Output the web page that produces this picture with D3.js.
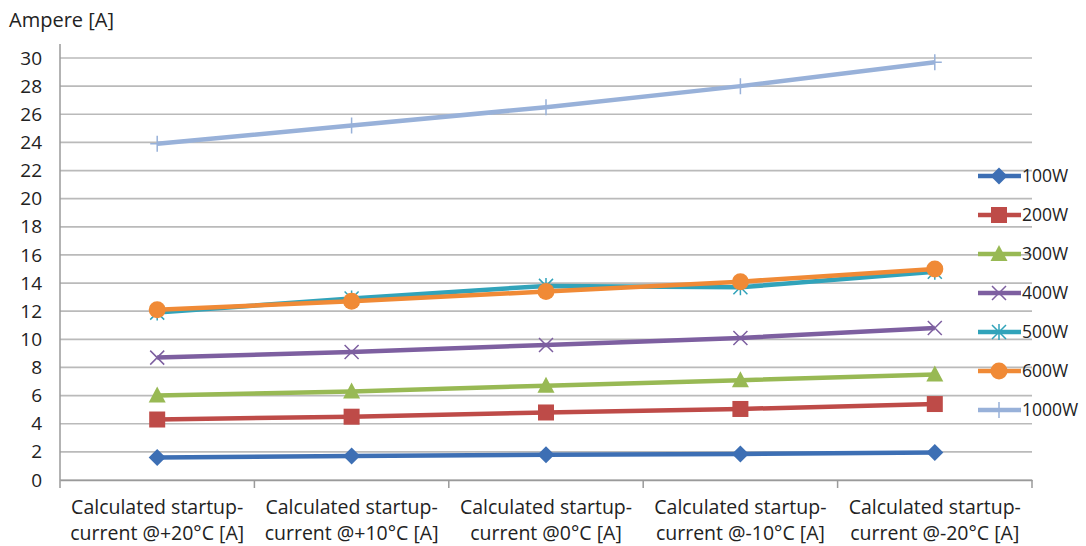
<!DOCTYPE html>
<html>
<head>
<meta charset="utf-8">
<script src="https://cdn.jsdelivr.net/npm/d3@7"></script>
<style>
  body { margin: 0; background: #fff; }
  text { font-family: "Open Sans", "Noto Sans", sans-serif; fill: #222; }
</style>
</head>
<body>
<script>
// data
var categories = [
  'Calculated startup-|current @+20°C [A]',
  'Calculated startup-|current @+10°C [A]',
  'Calculated startup-|current @0°C [A]',
  'Calculated startup-|current @-10°C [A]',
  'Calculated startup-|current @-20°C [A]'
]
var seriesNames = ['100W', '200W', '300W', '400W', '500W', '600W', '1000W']
var w100 = [1.6, 1.7, 1.8, 1.85, 1.95]
var w200 = [4.3, 4.5, 4.8, 5.05, 5.4]
var w300 = [6.0, 6.3, 6.7, 7.1, 7.5]
var w400 = [8.7, 9.1, 9.6, 10.1, 10.8]
var w500 = [11.9, 12.9, 13.8, 13.7, 14.8]
var w600 = [12.1, 12.7, 13.4, 14.1, 15.0]
var w1000 = [23.9, 25.2, 26.5, 28.0, 29.7]
var yTicks = d3.range(0, 31, 2)

var colors = ['#3d6fb4', '#be4b48', '#98b954', '#7d5fa0', '#31a3ba', '#f08a36', '#98b1d9']
var symbols = ['diamond', 'square', 'triangle', 'x', 'star', 'circle', 'plus']
var values = [w100, w200, w300, w400, w500, w600, w1000]

var width = 1086, height = 546
var svg = d3.select('body').append('svg')
    .attr('width', width)
    .attr('height', height)

var plotLeft = 60, plotRight = 1032, plotTop = 58, plotBottom = 480

var x = d3.scaleBand()
    .domain(categories)
    .range([plotLeft, plotRight])
var y = d3.scaleLinear()
    .domain([0, 30])
    .range([plotBottom, plotTop])

// gridlines
svg.append('g')
    .selectAll('line')
    .data(yTicks)
    .join('line')
    .attr('x1', plotLeft)
    .attr('x2', plotRight)
    .attr('y1', d => y(d))
    .attr('y2', d => y(d))
    .attr('stroke', '#bababa')
    .attr('stroke-width', 1.7)

// y axis
var yAxis = svg.append('g')
    .attr('transform', 'translate(' + plotLeft + ',0)')
    .call(d3.axisLeft(y).tickValues(yTicks).tickSize(0).tickPadding(18))
yAxis.select('.domain').remove()
yAxis.selectAll('text')
    .style('font-size', '19px')
    .attr('fill', '#222')

svg.append('line')
    .attr('x1', plotLeft)
    .attr('x2', plotLeft)
    .attr('y1', 44)
    .attr('y2', plotBottom)
    .attr('stroke', '#9a9a9a')
    .attr('stroke-width', 1.5)

// x axis
var xAxis = svg.append('g')
    .attr('transform', 'translate(0,' + plotBottom + ')')
    .call(d3.axisBottom(x).tickSize(0).tickFormat(''))
xAxis.select('.domain')
    .attr('stroke', '#9a9a9a')
    .attr('stroke-width', 1.5)

var edges = categories.map(c => x(c)).concat([plotRight])
svg.append('g')
    .selectAll('line')
    .data(edges)
    .join('line')
    .attr('x1', d => d)
    .attr('x2', d => d)
    .attr('y1', plotBottom)
    .attr('y2', plotBottom + 8)
    .attr('stroke', '#9a9a9a')
    .attr('stroke-width', 1.5)

var xLabels = svg.append('g')
    .selectAll('text')
    .data(categories)
    .join('text')
    .attr('text-anchor', 'middle')
    .style('font-size', '19.5px')
xLabels.each(function (d) {
    var parts = d.split('|')
    var t = d3.select(this)
    parts.forEach(function (p, i) {
        t.append('tspan')
            .attr('x', x(d) + x.bandwidth() / 2)
            .attr('y', 514 + i * 26)
            .text(p)
    })
})

// axis title
svg.append('text')
    .attr('x', 9)
    .attr('y', 27)
    .style('font-size', '20px')
    .text('Ampere [A]')

// marker drawing
function drawMarker(g, type, color) {
    if (type === 'diamond') {
        g.append('path').attr('d', 'M0,-8.5 L8.5,0 L0,8.5 L-8.5,0 Z').attr('fill', color)
    } else if (type === 'square') {
        g.append('rect').attr('x', -8).attr('y', -8).attr('width', 16).attr('height', 16).attr('fill', color)
    } else if (type === 'triangle') {
        g.append('path').attr('d', 'M0,-9 L8.5,7 L-8.5,7 Z').attr('fill', color)
    } else if (type === 'x') {
        g.append('path').attr('d', 'M-7,-7 L7,7 M-7,7 L7,-7').attr('stroke', color).attr('stroke-width', 1.5)
    } else if (type === 'star') {
        g.append('path').attr('d', 'M-7,-7 L7,7 M-7,7 L7,-7 M0,-8 L0,8').attr('stroke', color).attr('stroke-width', 1.5)
    } else if (type === 'circle') {
        g.append('circle').attr('r', 8.5).attr('fill', color)
    } else if (type === 'plus') {
        g.append('path').attr('d', 'M-7,0 L7,0 M0,-8 L0,8').attr('stroke', color).attr('stroke-width', 1.5)
    }
}

var line = d3.line()
    .x((d, i) => x(categories[i]) + x.bandwidth() / 2)
    .y(d => y(d))

values.forEach(function (vals, s) {
    var g = svg.append('g')
    g.append('path')
        .datum(vals)
        .attr('d', line)
        .attr('fill', 'none')
        .attr('stroke', colors[s])
        .attr('stroke-width', 4.5)
        .attr('stroke-linejoin', 'round')
    vals.forEach(function (v, i) {
        var m = g.append('g')
            .attr('transform', 'translate(' + (x(categories[i]) + x.bandwidth() / 2) + ',' + y(v) + ')')
        drawMarker(m, symbols[s], colors[s])
    })
})

// legend
var legend = svg.append('g')
    .attr('transform', 'translate(978,176)')
seriesNames.forEach(function (name, i) {
    var row = legend.append('g')
        .attr('transform', 'translate(0,' + (i * 39) + ')')
    row.append('line')
        .attr('x1', 0)
        .attr('x2', 43)
        .attr('stroke', colors[i])
        .attr('stroke-width', 4.5)
    var m = row.append('g').attr('transform', 'translate(21,0)')
    drawMarker(m, symbols[i], colors[i])
    row.append('text')
        .attr('x', 44)
        .attr('y', 6)
        .style('font-size', '17.5px')
        .text(name)
})
</script>
</body>
</html>
